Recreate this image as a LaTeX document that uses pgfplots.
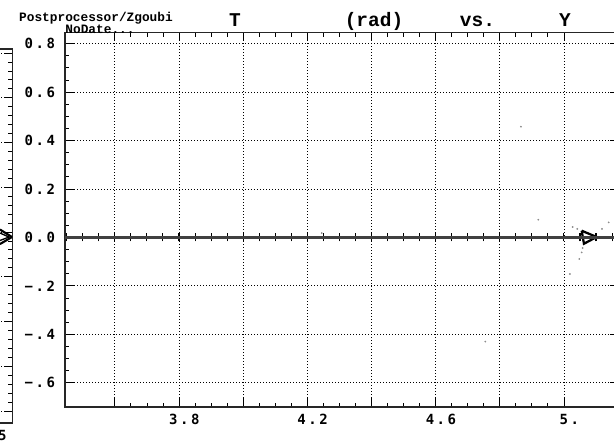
\documentclass[border=0pt]{standalone}
\usepackage{pgfplots}
\pgfplotsset{compat=1.18}
\usepackage{fontspec}
\newfontfamily\tickfont[LetterSpace=18]{DejaVu Sans Mono}
\newfontfamily\courierb{Liberation Mono}
\pgfplotsset{
  zgbase/.style={
    scale only axis,
    axis line style={line width=1.0pt, black!85},
    tick style={line width=0.6pt, black},
    tick align=inside,
    major tick length=6.5pt,
    minor tick length=3pt,
    grid=major,
    major grid style={line width=0.55pt, black, dash pattern=on 0.75pt off 1.5pt},
    ticklabel style={font=\tickfont\bfseries\fontsize{10.5}{11}\selectfont},
  }
}
\begin{document}
\begin{tikzpicture}
% left (partially visible) neighbouring plot
\begin{axis}[zgbase,
  at={(9.225pt,18.75pt)}, anchor=south east,
  width=118.5pt, height=280.5pt,
  xmin=1.0, xmax=1.6, ymin=-0.27, ymax=8.09,
  xtick={1.5}, xticklabels={1.5},
  xticklabel style={xshift=4pt, yshift=-2pt},
  ytick={0,1,2,3,4,5,6,7,8}, yticklabels={},
  minor y tick num=4, minor x tick num=4,
]
\addplot[black, line width=1.6pt] coordinates {(1.5532,4.054) (1.5989,3.887) (1.5532,3.730)};
\addplot[black, line width=1.0pt] coordinates {(1.5532,3.976) (1.5875,3.887) (1.5532,3.809)};
\end{axis}
% main plot
\begin{axis}[zgbase,
  at={(48.75pt,30.75pt)}, anchor=south west,
  width=415.1pt, height=280.7pt,
  xmin=3.4446, xmax=5.17, ymin=-0.7, ymax=0.845,
  xtick={3.6,3.8,4.0,4.2,4.4,4.6,4.8,5.0},
  xticklabels={,3.8,,4.2,,4.6,,5.},
  xticklabel style={xshift=4pt, yshift=-2pt},
  yticklabel style={xshift=-4pt},
  ytick={-0.6,-0.4,-0.2,0,0.2,0.4,0.6,0.8},
  yticklabels={−.6,−.4,−.2,0.0,0.2,0.4,0.6,0.8},
  minor x tick num=3, minor y tick num=3,
]
\addplot[only marks, mark=*, mark size=0.45pt, black!45] coordinates {
 (4.866,0.457) (4.920,0.073) (5.0272,0.043) (5.0416,0.035) (5.1186,0.035)
 (5.1394,0.062) (5.0583,-0.044) (5.0553,-0.062) (5.0478,-0.089) (5.0188,-0.151)
 (4.245,0.018) (4.755,-0.430)
};
\addplot[black, line width=1.7pt] coordinates {(5.0553,0.0277) (5.102,0.0017) (5.0624,-0.026) (5.0553,0.0277)};
\end{axis}
% zero line with ticks
\begin{axis}[
  scale only axis,
  at={(48.75pt,30.75pt)}, anchor=south west,
  width=415.1pt, height=280.7pt,
  xmin=3.4446, xmax=5.17, ymin=-0.7, ymax=0.845,
  axis x line=middle, axis y line=none,
  axis line style={line width=1.8pt, black!75, -},
  xtick={3.45,3.5,...,5.16}, xticklabels={},
  tick align=center, major tick length=6pt,
  tick style={line width=0.8pt, black},
]
\end{axis}
% texts
\begin{scope}[x=0.75pt,y=0.75pt]
\node[anchor=base, inner sep=0pt, font=\courierb\bfseries\fontsize{9.6}{10}\selectfont] at (96,426.5) {Postprocessor/Zgoubi};
\node[anchor=base, inner sep=0pt, font=\courierb\bfseries\fontsize{9.6}{10}\selectfont] at (100,414.5) {NoDate...};
\node[anchor=base, font=\courierb\bfseries\fontsize{14.6}{15}\selectfont] at (235,421.4) {T};
\node[anchor=base, font=\courierb\bfseries\fontsize{14.6}{15}\selectfont] at (374,421.4) {(rad)};
\node[anchor=base, font=\courierb\bfseries\fontsize{14.6}{15}\selectfont] at (477.5,421.4) {vs.};
\node[anchor=base, font=\courierb\bfseries\fontsize{14.6}{15}\selectfont] at (565,421.4) {Y};
\pgfresetboundingbox
\useasboundingbox (0,0) rectangle (614,448);
\end{scope}
\end{tikzpicture}
\end{document}
